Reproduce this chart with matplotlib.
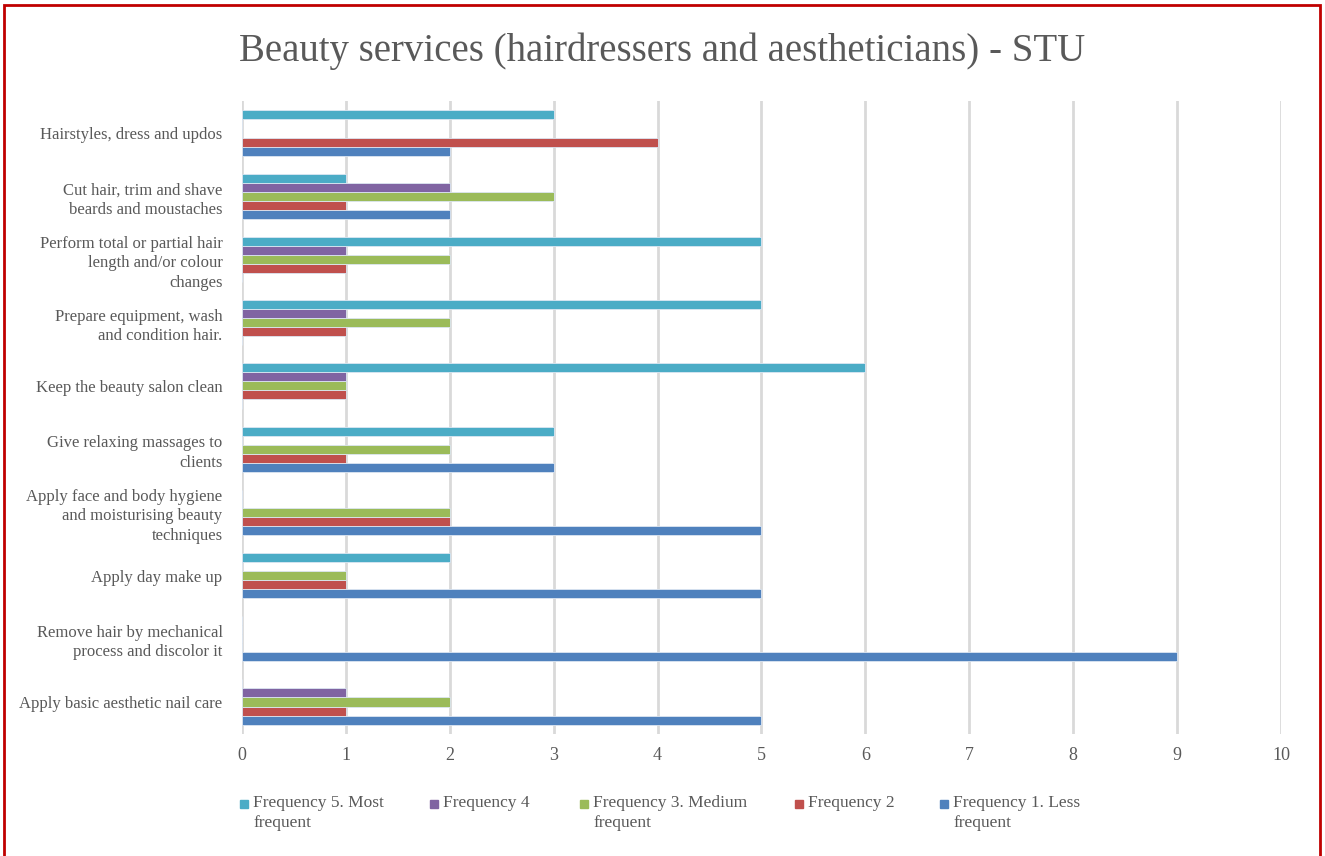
import matplotlib.pyplot as plt
import numpy as np
from matplotlib.patches import Rectangle

plt.rcParams['font.family'] = ['Liberation Serif', 'DejaVu Serif']

tasks = [
    'Hairstyles, dress and updos',
    'Cut hair, trim and shave\nbeards and moustaches',
    'Perform total or partial hair\nlength and/or colour\nchanges',
    'Prepare equipment, wash\nand condition hair.',
    'Keep the beauty salon clean',
    'Give relaxing massages to\nclients',
    'Apply face and body hygiene\nand moisturising beauty\ntechniques',
    'Apply day make up',
    'Remove hair by mechanical\nprocess and discolor it',
    'Apply basic aesthetic nail care',
]

freq1 = [2, 2, 0, 0, 0, 3, 5, 5, 9, 5]
freq2 = [4, 1, 1, 1, 1, 1, 2, 1, 0, 1]
freq3 = [0, 3, 2, 2, 1, 2, 2, 1, 0, 2]
freq4 = [0, 2, 1, 1, 1, 0, 0, 0, 0, 1]
freq5 = [3, 1, 5, 5, 6, 3, 0, 2, 0, 0]

series_names = ['Frequency 1. Less\nfrequent', 'Frequency 2',
                'Frequency 3. Medium\nfrequent', 'Frequency 4',
                'Frequency 5. Most\nfrequent']
colors = ['#4F81BD', '#C0504D', '#9BBB59', '#8064A2', '#4BACC6']
text_col = '#595959'

fig = plt.figure(figsize=(13.25, 8.56), dpi=100)
ax = fig.add_axes([0.1826, 0.143, 0.7842, 0.7385])

# first task goes on top
y = np.arange(len(tasks))[::-1]
bar_h = 0.143
for i, (vals, c) in enumerate(zip([freq1, freq2, freq3, freq4, freq5], colors)):
    ax.barh(y + (i - 2) * bar_h, vals, height=bar_h, color=c,
            edgecolor='#DCE6F2', linewidth=0.6, zorder=3)

ax.set_xlim(0, 10)
ax.set_ylim(-0.5, 9.5)
ax.set_xticks(range(11))
ax.set_yticks(y)
ax.set_yticklabels(tasks, fontsize=12, color=text_col, linespacing=1.3)
ax.tick_params(axis='x', labelsize=13, labelcolor=text_col, length=0, pad=10)
ax.tick_params(axis='y', length=0, pad=14)
ax.grid(axis='x', color='#D9D9D9', linewidth=2, zorder=0)
for s in ax.spines.values():
    s.set_visible(False)

fig.text(0.5, 0.94, 'Beauty services (hairdressers and aestheticians) - STU',
         ha='center', va='center', fontsize=28, color=text_col)

# legend laid out by hand: swatch + wrapped label, top row aligned
legend_x = [240, 430, 580, 795, 940]
for x0, name, c in zip(legend_x, series_names[::-1], colors[::-1]):
    fig.patches.append(Rectangle((x0 / 1325, 1 - 808 / 856), 8 / 1325, 8 / 856,
                                 transform=fig.transFigure, color=c))
    fig.text((x0 + 13) / 1325, 1 - 795 / 856, name, ha='left', va='top',
             fontsize=12.5, color=text_col, linespacing=1.3)

# red page frame
fig.patches.append(Rectangle((4 / 1325, -0.05), 1316 / 1325, 1.05 - 5 / 856,
                             transform=fig.transFigure, fill=False,
                             edgecolor='#C00000', linewidth=2))

fig.savefig('out.png', dpi=100)
